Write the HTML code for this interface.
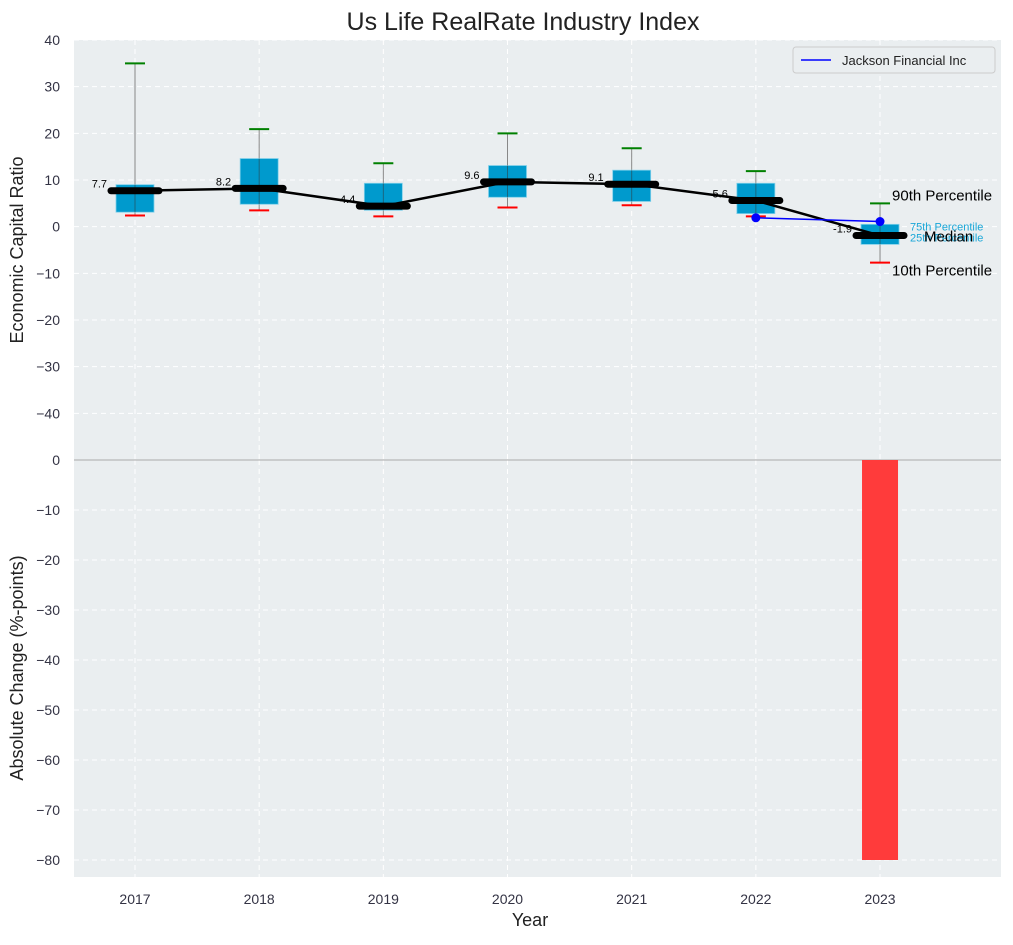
<!DOCTYPE html>
<html><head><meta charset="utf-8"><style>
body{margin:0;background:#fff;font-family:"Liberation Sans",sans-serif}
text{font-family:"Liberation Sans",sans-serif}
</style></head><body>
<svg id="chart" width="1013" height="940" xmlns="http://www.w3.org/2000/svg"></svg>
<script>
const years=[2017,2018,2019,2020,2021,2022,2023];
const p10=[2.4,3.5,2.2,4.1,4.6,2.2,-7.7];
const p25=[3.1,4.8,3.5,6.3,5.4,2.8,-3.8];
const med=[7.7,8.2,4.4,9.6,9.1,5.6,-1.9];
const p75=[9.0,14.6,9.3,13.1,12.1,9.3,0.5];
const p90=[35,20.9,13.6,20,16.8,11.9,5.0];
const jackYears=[2022,2023];
const jackVals=[1.9,1.1];
const changeYears=[2023];
const changeVals=[-80];
const topTicks=[40,30,20,10,0,-10,-20,-30,-40];
const botTicks=[0,-10,-20,-30,-40,-50,-60,-70,-80];

const NS="http://www.w3.org/2000/svg";
const svg=document.getElementById('chart');
const L=74,R=1001,T1=40,B1=460,T2=460,B2=877;
const x=v=>135+(v-2017)*124.17;
const y1=v=>T1+(40-v)/(90)*(B1-T1);
const y2=v=>T2+(0-v)/(83.4)*(B2-T2);
function el(tag,a,txt){const e=document.createElementNS(NS,tag);for(const k in a)e.setAttribute(k,a[k]);if(txt!==undefined)e.textContent=txt;svg.appendChild(e);return e;}

let e;
e=el('rect',{x:L,y:T1,width:R-L,height:B1-T1,fill:'#eaeef0'});
e=el('rect',{x:L,y:T2,width:R-L,height:B2-T2,fill:'#eaeef0'});
topTicks.forEach(t=>{e=el('line',{x1:L,x2:R,y1:y1(t),y2:y1(t),stroke:'#fff','stroke-dasharray':'5,4','stroke-width':1});
 e=el('text',{x:L-14,y:y1(t)+5,'text-anchor':'end','font-size':14,fill:'#334'},String(t).replace('-','\u2212'));});
botTicks.forEach(t=>{e=el('line',{x1:L,x2:R,y1:y2(t),y2:y2(t),stroke:'#fff','stroke-dasharray':'5,4','stroke-width':1});
 e=el('text',{x:L-14,y:y2(t)+5,'text-anchor':'end','font-size':14,fill:'#334'},String(t).replace('-','\u2212'));});
years.forEach(yr=>{[[T1,B1],[T2,B2]].forEach(([a,b])=>{e=el('line',{x1:x(yr),x2:x(yr),y1:a,y2:b,stroke:'#fff','stroke-dasharray':'5,4'});});
 e=el('text',{x:x(yr),y:B2+27,'text-anchor':'middle','font-size':14,fill:'#334'},yr);});
e=el('line',{x1:L,x2:R,y1:460,y2:460,stroke:'#aaa','stroke-width':1});

years.forEach((yr,i)=>{const cx=x(yr);
 e=el('line',{x1:cx,x2:cx,y1:y1(p90[i]),y2:y1(p10[i]),stroke:'#888','stroke-width':1});
 e=el('rect',{x:cx-19,y:y1(p75[i]),width:38,height:y1(p25[i])-y1(p75[i]),fill:'#009acd',stroke:'#7fd0ea','stroke-width':0.8});
 e=el('line',{x1:cx,x2:cx,y1:y1(p75[i]),y2:y1(p25[i]),stroke:'#333','stroke-width':1,opacity:0.5});
 e=el('line',{x1:cx-10,x2:cx+10,y1:y1(p90[i]),y2:y1(p90[i]),stroke:'green','stroke-width':2});
 e=el('line',{x1:cx-10,x2:cx+10,y1:y1(p10[i]),y2:y1(p10[i]),stroke:'red','stroke-width':2});
});
e=el('polyline',{points:years.map((yr,i)=>x(yr)+','+y1(med[i])).join(' '),fill:'none',stroke:'#000','stroke-width':2.5});
years.forEach((yr,i)=>{const cx=x(yr);
 e=el('line',{x1:cx-24,x2:cx+24,y1:y1(med[i]),y2:y1(med[i]),stroke:'#000','stroke-width':7,'stroke-linecap':'round'});
 e=el('text',{x:cx-28,y:y1(med[i])-3,'text-anchor':'end','font-size':11,fill:'#000'},med[i].toFixed(1));
});
e=el('polyline',{points:jackYears.map((yr,i)=>x(yr)+','+y1(jackVals[i])).join(' '),fill:'none',stroke:'blue','stroke-width':1.5});
jackYears.forEach((yr,i)=>{e=el('circle',{cx:x(yr),cy:y1(jackVals[i]),r:4.5,fill:'blue'});});
const li=years.length-1,lx=x(years[li]);
[[p90[li],'90th Percentile',12,15,'#000',-3],[p10[li],'10th Percentile',12,15,'#000',13],[p75[li],'75th Percentile',30,11,'#1aa7d8',6],[p25[li],'25th Percentile',30,11,'#1aa7d8',-3],[med[li],'Median',44,15,'#000',6]].forEach(([v,t,dx,fs,c,dy])=>{
 e=el('text',{x:lx+dx,y:y1(v)+dy,'font-size':fs,fill:c},t);});
changeYears.forEach((yr,i)=>{const v=changeVals[i];e=el('rect',{x:x(yr)-18,y:y2(Math.max(0,v)),width:36,height:Math.abs(y2(v)-y2(0)),fill:'#ff3b3b'});});
e=el('rect',{x:793,y:47,width:202,height:26,fill:'#eaeef0',stroke:'#ccc',rx:3});
e=el('line',{x1:801,x2:831,y1:60,y2:60,stroke:'blue','stroke-width':1.5});
e=el('text',{x:842,y:65,'font-size':13,fill:'#222'},'Jackson Financial Inc');
e=el('text',{x:523,y:30,'text-anchor':'middle','font-size':25,fill:'#222'},'Us Life RealRate Industry Index');
e=el('text',{x:530,y:926,'text-anchor':'middle','font-size':18,fill:'#222'},'Year');
e=el('text',{x:0,y:0,'text-anchor':'middle','font-size':18,fill:'#222',transform:'translate(23,250) rotate(-90)'},'Economic Capital Ratio');
e=el('text',{x:0,y:0,'text-anchor':'middle','font-size':18,fill:'#222',transform:'translate(23,668) rotate(-90)'},'Absolute Change (%-points)');
</script>
</body></html>
